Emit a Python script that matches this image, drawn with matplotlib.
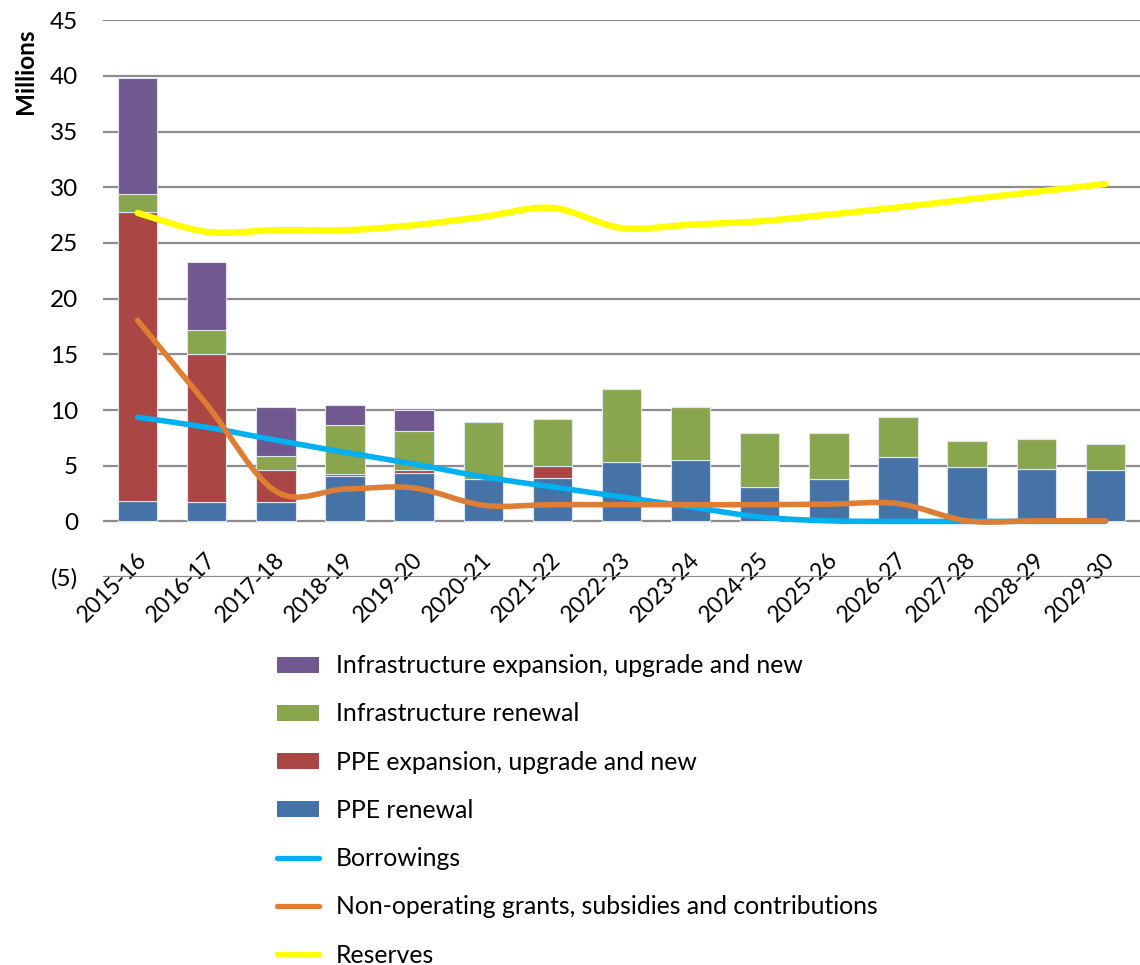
import numpy as np
import matplotlib.pyplot as plt
from matplotlib.path import Path
from matplotlib.patches import PathPatch, Patch
from matplotlib.lines import Line2D
from matplotlib.transforms import ScaledTranslation

plt.rcParams['font.family'] = ['Lato', 'DejaVu Sans']
plt.rcParams['ytick.major.pad'] = 18
plt.rcParams['ytick.major.size'] = 0
plt.rcParams['xtick.major.pad'] = 0
plt.rcParams['xtick.major.size'] = 0

years = ['2015-16', '2016-17', '2017-18', '2018-19', '2019-20', '2020-21', '2021-22',
         '2022-23', '2023-24', '2024-25', '2025-26', '2026-27', '2027-28', '2028-29', '2029-30']

# capital works (millions), stacked bottom to top
ppe_renewal = [1.8, 1.75, 1.75, 4.07, 4.34, 3.85, 3.9, 5.33, 5.48, 3.05, 3.8, 5.78, 4.88, 4.7, 4.61]
ppe_expansion = [26.0, 13.3, 2.85, 0.2, 0.25, 0.0, 1.05, 0.0, 0.0, 0.0, 0.0, 0.0, 0.0, 0.0, 0.0]
infra_renewal = [1.6, 2.1, 1.3, 4.4, 3.5, 5.1, 4.25, 6.56, 4.82, 4.89, 4.14, 3.6, 2.33, 2.7, 2.37]
infra_expansion = [10.4, 6.1, 4.35, 1.8, 1.9, 0.0, 0.0, 0.0, 0.0, 0.0, 0.0, 0.0, 0.0, 0.0, 0.0]

# funding sources (millions)
borrowings = [9.35, 8.45, 7.3, 6.2, 5.15, 4.0, 3.1, 2.2, 1.3, 0.4, 0.05, 0.0, 0.0, 0.0, 0.0]
grants = [18.05, 10.5, 2.7, 2.9, 3.0, 1.45, 1.5, 1.5, 1.5, 1.5, 1.55, 1.6, 0.05, 0.05, 0.05]
reserves = [27.7, 26.0, 26.15, 26.15, 26.6, 27.35, 28.15, 26.35, 26.65, 26.95, 27.55, 28.2, 28.9, 29.6, 30.3]

c_blue = '#4572A7'
c_red = '#AA4643'
c_green = '#89A54E'
c_purple = '#71588F'
c_borrow = '#00B0F0'
c_grant = '#DE7D34'
c_res = '#FFFF00'


def smooth_path(xs, ys):
    # cubic bezier through every point, excel-style smoothing
    pts = np.column_stack([xs, ys]).astype(float)
    n = len(pts)
    verts = [pts[0]]
    codes = [Path.MOVETO]
    for i in range(n - 1):
        p0 = pts[max(i - 1, 0)]
        p1 = pts[i]
        p2 = pts[i + 1]
        p3 = pts[min(i + 2, n - 1)]
        c1 = p1 + (p2 - p0) / 6.0
        c2 = p2 - (p3 - p1) / 6.0
        verts += [c1, c2, p2]
        codes += [Path.CURVE4] * 3
    return Path(verts, codes)


fig = plt.figure(figsize=(11.4, 9.65), dpi=100)
ax = fig.add_axes([0.0904, 0.402, 0.9096, 0.577])

x = np.arange(len(years))
w = 0.57
edge = dict(edgecolor='#dfe6ee', linewidth=0.8)
b = np.zeros(len(years))
ax.bar(x, ppe_renewal, w, bottom=b, color=c_blue, zorder=2, **edge)
b += ppe_renewal
ax.bar(x, ppe_expansion, w, bottom=b, color=c_red, zorder=2, **edge)
b += ppe_expansion
ax.bar(x, infra_renewal, w, bottom=b, color=c_green, zorder=2, **edge)
b += infra_renewal
ax.bar(x, infra_expansion, w, bottom=b, color=c_purple, zorder=2, **edge)

for ys, col, lw in [(borrowings, c_borrow, 4.0), (grants, c_grant, 4.0), (reserves, c_res, 4.6)]:
    ax.add_patch(PathPatch(smooth_path(x, ys), facecolor='none', edgecolor=col,
                           linewidth=lw, capstyle='round', joinstyle='round', zorder=3))

ax.set_xlim(-0.5, len(years) - 0.5)
ax.set_ylim(-5, 45)
ax.set_yticks(np.arange(-5, 46, 5))
ax.set_yticklabels(['(5)'] + [str(v) for v in range(0, 46, 5)], fontsize=17.5)
ax.yaxis.grid(True, color='#8c8c8c', linewidth=1.6, zorder=0)
ax.set_axisbelow(True)
ax.set_xticks(x)
ax.set_xticklabels(years, rotation=45, ha='right', rotation_mode='anchor', fontsize=16.5)
# category labels hang just under the zero line
shift = ScaledTranslation(-0.02, 0, fig.dpi_scale_trans)
for lab in ax.get_xticklabels():
    lab.set_y(0.05)
    lab.set_transform(lab.get_transform() + shift)
for s in ax.spines.values():
    s.set_visible(False)

fig.text(0.022, 0.926, 'Millions', rotation=90, fontsize=17.5, fontweight='bold',
         ha='center', va='center')

handles = [
    Patch(facecolor=c_purple, edgecolor='none'),
    Patch(facecolor=c_green, edgecolor='none'),
    Patch(facecolor=c_red, edgecolor='none'),
    Patch(facecolor=c_blue, edgecolor='none'),
    Line2D([], [], color=c_borrow, linewidth=3.8, solid_capstyle='round'),
    Line2D([], [], color=c_grant, linewidth=3.8, solid_capstyle='round'),
    Line2D([], [], color=c_res, linewidth=3.8, solid_capstyle='round'),
]
labels = ['Infrastructure expansion, upgrade and new', 'Infrastructure renewal',
          'PPE expansion, upgrade and new', 'PPE renewal', 'Borrowings',
          'Non-operating grants, subsidies and contributions', 'Reserves']
fig.legend(handles, labels, loc='upper left', bbox_to_anchor=(0.243, 0.322),
           frameon=False, fontsize=17.8, handlelength=1.7, handleheight=0.62,
           handletextpad=0.68, labelspacing=1.02, borderpad=0, borderaxespad=0)

fig.savefig('out.png', dpi=100)
